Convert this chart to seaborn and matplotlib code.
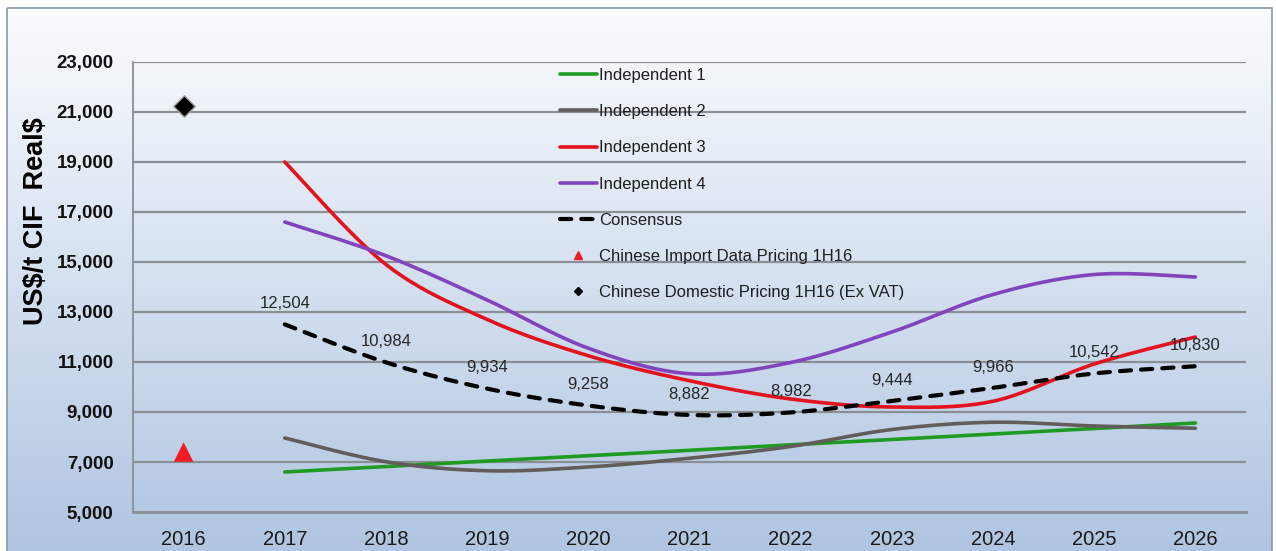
import numpy as np
import pandas as pd
import matplotlib
matplotlib.use("Agg")
import matplotlib.pyplot as plt
import seaborn as sns
from matplotlib.lines import Line2D
from matplotlib.patches import Rectangle
from matplotlib.ticker import FuncFormatter, FixedLocator

# ---- data -------------------------------------------------------------
years = ["2016", "2017", "2018", "2019", "2020", "2021",
         "2022", "2023", "2024", "2025", "2026"]
forecast_years = years[1:]

independent_1 = [6600, 6820, 7040, 7250, 7470, 7690, 7900, 8120, 8340, 8560]
independent_2 = [7960, 7010, 6650, 6800, 7150, 7620, 8300, 8590, 8440, 8350]
independent_3 = [19000, 14900, 12700, 11250, 10250, 9520, 9200, 9430, 10920, 12000]
independent_4 = [16600, 15250, 13480, 11550, 10530, 10980, 12200, 13700, 14500, 14400]
consensus = [12504, 10984, 9934, 9258, 8882, 8982, 9444, 9966, 10542, 10830]

import_price_2016 = 7400
domestic_price_2016 = 21250

y_ticks = [5000, 7000, 9000, 11000, 13000, 15000, 17000, 19000, 21000, 23000]

series_names = ["Independent 1", "Independent 2", "Independent 3", "Independent 4"]
series_values = [independent_1, independent_2, independent_3, independent_4]
series_colors = ["#1f9a22", "#625c5a", "#e3121f", "#8144bd"]
import_label = "Chinese Import Data Pricing 1H16"
domestic_label = "Chinese Domestic Pricing 1H16 (Ex VAT)"

# ---- fonts ------------------------------------------------------------
sns.set_theme(style="white")
plt.rcParams["font.family"] = ["Liberation Sans", "DejaVu Sans"]


def smooth_curve(xs, ys, steps=24):
    """Cubic Bezier smoothing through the points (spreadsheet-style smoothed line)."""
    xs = np.asarray(xs, float)
    ys = np.asarray(ys, float)
    n = len(xs)
    px = np.concatenate([[xs[0]], xs, [xs[-1]]])
    py = np.concatenate([[ys[0]], ys, [ys[-1]]])
    out_x, out_y = [], []
    t = np.linspace(0, 1, steps, endpoint=False)
    for i in range(n - 1):
        p0 = np.array([px[i + 1], py[i + 1]])
        p3 = np.array([px[i + 2], py[i + 2]])
        c1 = p0 + (np.array([px[i + 2], py[i + 2]]) - np.array([px[i], py[i]])) / 6.0
        c2 = p3 - (np.array([px[i + 3], py[i + 3]]) - np.array([px[i + 1], py[i + 1]])) / 6.0
        b = ((1 - t) ** 3)[:, None] * p0 + (3 * (1 - t) ** 2 * t)[:, None] * c1 \
            + (3 * (1 - t) * t ** 2)[:, None] * c2 + (t ** 3)[:, None] * p3
        out_x.extend(b[:, 0])
        out_y.extend(b[:, 1])
    out_x.append(xs[-1])
    out_y.append(ys[-1])
    return np.array(out_x), np.array(out_y)


# ---- figure & background ---------------------------------------------
W, H = 1276, 551
fig = plt.figure(figsize=(W / 100, H / 100), dpi=100)
fig.patch.set_facecolor("white")

bg = fig.add_axes([0, 0, 1, 1], zorder=-10)
bg.set_xlim(0, W)
bg.set_ylim(H, 0)
bg.axis("off")
top_c = np.array(matplotlib.colors.to_rgb("#fafcfe"))
bot_c = np.array(matplotlib.colors.to_rgb("#b0c5e1"))
frac = np.linspace(0, 1, 256)[:, None]
grad = (top_c[None, :] * (1 - frac) + bot_c[None, :] * frac)[:, None, :]
bg.imshow(grad, extent=[7, 1272, H, 8], aspect="auto", interpolation="bilinear")
bg.add_patch(Rectangle((7, 8), 1265, H, fill=False, edgecolor="#8898ab", lw=1.2))

# ---- main axes --------------------------------------------------------
ax = fig.add_axes([133 / W, 1 - 512 / H, (1246 - 133) / W, 450 / H])
ax.set_facecolor("none")
pos = {y: i for i, y in enumerate(years)}
fx = [pos[y] for y in forecast_years]

grid_c = "#8a8e95"
for v in y_ticks[1:]:
    ax.axhline(v, color=grid_c, lw=1.6, zorder=0)

for name, vals, col in zip(series_names, series_values, series_colors):
    sx, sy = smooth_curve(fx, vals)
    sns.lineplot(x=sx, y=sy, ax=ax, color=col, lw=2.6, sort=False,
                 estimator=None, legend=False, zorder=3)

cx, cy = smooth_curve(fx, consensus)
sns.lineplot(x=cx, y=cy, ax=ax, color="black", lw=3.0, sort=False,
             estimator=None, legend=False, zorder=4,
             dashes=False, linestyle=(0, (2.7, 2.4)), dash_capstyle="round")
for xi, v in zip(fx, consensus):
    ax.annotate(f"{v:,}", (xi, v), xytext=(0, 15), textcoords="offset points",
                ha="center", va="center", fontsize=12,
                color="#262626", zorder=6)

sns.scatterplot(x=[pos["2016"]], y=[import_price_2016], ax=ax, marker="^",
                s=200, color="#ee1c25", edgecolor="none", zorder=5, legend=False)
sns.scatterplot(x=[pos["2016"]], y=[domestic_price_2016], ax=ax, marker="D",
                s=120, color="black", edgecolor="#a0a0a0", linewidth=1.0,
                zorder=5, legend=False)

# ---- axes styling -----------------------------------------------------
ax.set_xlim(-0.5, len(years) - 0.5)
ax.set_ylim(5000, 23000)
ax.set_xticks(range(len(years)))
ax.set_xticklabels(years)
ax.xaxis.set_minor_locator(FixedLocator(np.arange(-0.5, len(years), 1.0)))
ax.tick_params(axis="x", which="major", length=0, pad=13, labelsize=14.5,
               labelcolor="#1a1a1a")
ax.tick_params(axis="x", which="minor", length=6, width=1.3, color=grid_c,
               direction="out")
ax.set_yticks(y_ticks)
ax.yaxis.set_major_formatter(FuncFormatter(lambda v, p: f"{int(v):,}"))
ax.tick_params(axis="y", length=5, width=1.3, color=grid_c, direction="out",
               pad=9, labelsize=13.5, labelcolor="#111111")
for lab in ax.get_yticklabels():
    lab.set_fontweight("bold")
for side in ["top", "right"]:
    ax.spines[side].set_visible(False)
ax.spines["left"].set_color(grid_c)
ax.spines["left"].set_linewidth(1.3)
ax.spines["bottom"].set_color(grid_c)
ax.spines["bottom"].set_linewidth(2.0)
ax.set_xlabel("")
ax.set_ylabel("")

fig.text(36 / W, 1 - 221 / H, "US\\$/t CIF  Real\\$", rotation=90, ha="center",
         va="center", fontsize=19.5, fontweight="bold", color="black")

# ---- legend -----------------------------------------------------------
handles = [Line2D([], [], color=c, lw=2.6) for c in series_colors]
handles.append(Line2D([], [], color="black", lw=3.0, linestyle=(0, (2.7, 2.4)),
                      dash_capstyle="round"))
handles.append(Line2D([], [], color="#ee1c25", marker="^", markersize=6,
                      linestyle="none"))
handles.append(Line2D([], [], color="black", marker="D", markersize=4,
                      linestyle="none"))
labels = series_names + ["Consensus", import_label, domestic_label]
leg = fig.legend(handles, labels, loc="upper left",
                 bbox_to_anchor=(560 / W, 1 - 68 / H), frameon=False,
                 borderpad=0, borderaxespad=0, handlelength=2.2,
                 handletextpad=0.15, labelspacing=1.27,
                 prop={"size": 12})
for t in leg.get_texts():
    t.set_color("#1e1e1e")

fig.savefig("out.png", dpi=100)
